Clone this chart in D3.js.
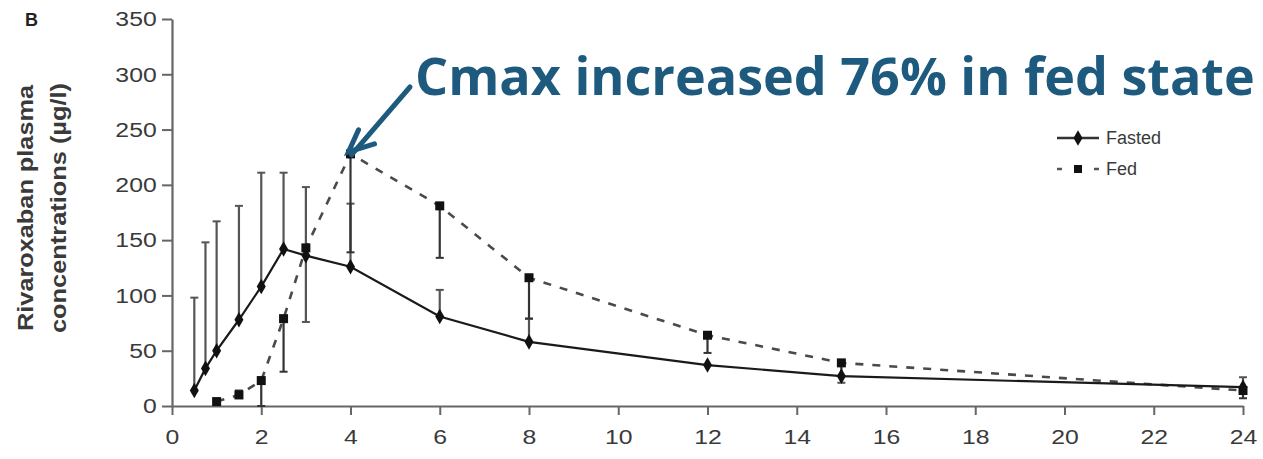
<!DOCTYPE html>
<html>
<head>
<meta charset="utf-8">
<script src="https://cdn.jsdelivr.net/npm/d3@7"></script>
<style>
  body { margin: 0; background: #fff; }
  svg { display: block; }
</style>
</head>
<body>
<div id="plot"></div>
<script>
const margin = { top: 19, right: 20, bottom: 53, left: 172 };
const width = 1263 - margin.left - margin.right;
const height = 459 - margin.top - margin.bottom;

// time (h) and plasma concentrations (µg/l)
const fastedTime = [0.5, 0.75, 1, 1.5, 2, 2.5, 3, 4, 6, 8, 12, 15, 24];
const fastedMean = [14, 34, 50, 78, 108, 142, 136, 126, 81, 58, 37, 27, 17];
const fastedHi   = [98, 148, 167, 181, 211, 211, 198, 183, 105, 79, 37, 27, 26];
const fastedLo   = [14, 34, 50, 78, 108, 142, 76, 126, 81, 58, 37, 21, 17];

const fedTime = [1, 1.5, 2, 2.5, 3, 4, 6, 8, 12, 15, 24];
const fedMean = [4, 10, 23, 79, 143, 228, 181, 116, 64, 39, 14];
const fedHi   = [4, 14, 23, 79, 143, 228, 181, 116, 64, 39, 14];
const fedLo   = [4, 10, 0, 31, 143, 139, 134, 79, 48, 27, 7];

const xTicks = d3.range(0, 25, 2);
const yTicks = d3.range(0, 351, 50);

const series = [
  { name: "Fasted", time: fastedTime, mean: fastedMean, hi: fastedHi, lo: fastedLo },
  { name: "Fed", time: fedTime, mean: fedMean, hi: fedHi, lo: fedLo }
].map(s => ({
  name: s.name,
  points: s.time.map((t, i) => ({ t, v: s.mean[i], hi: s.hi[i], lo: s.lo[i] }))
}));

const x = d3.scaleLinear().domain([0, 24]).range([0, width]);
const y = d3.scaleLinear().domain([0, 350]).range([height, 0]);

const root = d3.select("#plot")
  .append("svg")
  .attr("width", 1263)
  .attr("height", 459);

const svg = root.append("g")
  .attr("transform", `translate(${margin.left},${margin.top})`);

const axisColor = "#666";
const textColor = "#3a3a3a";
const font = "Liberation Sans, Arial, sans-serif";

// axes
const xAxis = svg.append("g")
  .attr("transform", `translate(0,${height})`)
  .call(d3.axisBottom(x).tickValues(xTicks).tickSize(9).tickSizeOuter(0).tickPadding(14));

const yAxis = svg.append("g")
  .call(d3.axisLeft(y).tickValues(yTicks).tickSize(10).tickSizeOuter(0).tickPadding(5));

[xAxis, yAxis].forEach(a => {
  a.select(".domain").attr("stroke", axisColor).attr("stroke-width", 2.2);
  a.selectAll(".tick line").attr("stroke", axisColor).attr("stroke-width", 2);
  a.selectAll(".tick text")
    .attr("fill", textColor)
    .style("font-family", font)
    .style("font-size", "21px");
});
xAxis.selectAll(".tick text").attr("dy", "0.71em").attr("transform", "scale(1.18,1)");
yAxis.selectAll(".tick text").attr("x", -13).attr("transform", "scale(1.18,1)");

// y axis title
const yTitle = root.append("text")
  .attr("transform", "translate(42,208) rotate(-90)")
  .attr("text-anchor", "middle")
  .attr("fill", textColor)
  .style("font-family", font)
  .style("font-weight", "bold")
  .style("font-size", "22px");
yTitle.append("tspan").attr("x", 0).attr("dy", "-0.42em")
  .attr("textLength", 246).attr("lengthAdjust", "spacingAndGlyphs")
  .text("Rivaroxaban plasma");
yTitle.append("tspan").attr("x", 0).attr("dy", "1.5em")
  .attr("textLength", 250).attr("lengthAdjust", "spacingAndGlyphs")
  .text("concentrations (µg/l)");

// panel letter
root.append("text")
  .attr("x", 25).attr("y", 26)
  .attr("fill", "#222")
  .style("font-family", font)
  .style("font-weight", "bold")
  .style("font-size", "18px")
  .text("B");

// error bars
series.forEach(s => {
  const col = s.name === "Fasted" ? "#555" : "#333";
  const g = svg.append("g");
  s.points.filter(d => d.hi !== d.lo).forEach(d => {
    g.append("line")
      .attr("x1", x(d.t)).attr("x2", x(d.t))
      .attr("y1", y(d.hi)).attr("y2", y(d.lo))
      .attr("stroke", col).attr("stroke-width", 2.2);
    [d.hi, d.lo].forEach(v => {
      if (v === d.v) return;
      g.append("line")
        .attr("x1", x(d.t) - 4).attr("x2", x(d.t) + 4)
        .attr("y1", y(v)).attr("y2", y(v))
        .attr("stroke", col).attr("stroke-width", 2);
    });
  });
});

const line = d3.line()
  .x(d => x(d.t))
  .y(d => y(d.v));

// Fed
svg.append("path")
  .datum(series[1].points)
  .attr("fill", "none")
  .attr("stroke", "#4a4a4a")
  .attr("stroke-width", 2.6)
  .attr("stroke-dasharray", "8,9")
  .attr("d", line);

svg.append("g").selectAll("rect")
  .data(series[1].points)
  .join("rect")
  .attr("x", d => x(d.t) - 4.5)
  .attr("y", d => y(d.v) - 4.5)
  .attr("width", 9).attr("height", 9)
  .attr("fill", "#111");

// Fasted
svg.append("path")
  .datum(series[0].points)
  .attr("fill", "none")
  .attr("stroke", "#1a1a1a")
  .attr("stroke-width", 2.2)
  .attr("d", line);

const diamond = d3.symbol().type(d3.symbolDiamond).size(70);
svg.append("g").selectAll("path")
  .data(series[0].points)
  .join("path")
  .attr("transform", d => `translate(${x(d.t)},${y(d.v)})`)
  .attr("d", diamond)
  .attr("fill", "#111");

// legend
const legend = root.append("g").attr("transform", "translate(1057,138)");
legend.append("line").attr("x1", 0).attr("x2", 42).attr("y1", 0).attr("y2", 0)
  .attr("stroke", "#333").attr("stroke-width", 2.4);
legend.append("path").attr("transform", "translate(21,0)").attr("d", diamond).attr("fill", "#111");
legend.append("line").attr("x1", 0).attr("x2", 42).attr("y1", 31).attr("y2", 31)
  .attr("stroke", "#555").attr("stroke-width", 2.4).attr("stroke-dasharray", "5,32,5");
legend.append("rect").attr("x", 17).attr("y", 27).attr("width", 8).attr("height", 8).attr("fill", "#111");
legend.selectAll("text.lab")
  .data(["Fasted", "Fed"])
  .join("text")
  .attr("class", "lab")
  .attr("x", 49)
  .attr("y", (d, i) => i * 31 + 6)
  .attr("fill", textColor)
  .style("font-family", font)
  .style("font-size", "18px")
  .text(d => d);

// annotation
const blue = "#1d5a7e";
const peak = series[1].points.find(d => d.t === 4);
const tipX = margin.left + x(peak.t) - 2, tipY = margin.top + y(peak.v) - 2;
root.append("line")
  .attr("x1", 410).attr("y1", 87)
  .attr("x2", tipX + 3).attr("y2", tipY + 3)
  .attr("stroke", blue).attr("stroke-width", 5).attr("stroke-linecap", "round");
root.append("path")
  .attr("d", `M${tipX + 10},${tipY - 22} L${tipX},${tipY} L${tipX + 26},${tipY - 8}`)
  .attr("fill", "none")
  .attr("stroke", blue).attr("stroke-width", 5)
  .attr("stroke-linecap", "round").attr("stroke-linejoin", "miter");

const note = root.append("text")
  .attr("x", 415).attr("y", 95)
  .attr("fill", blue)
  .style("font-family", "Open Sans, Noto Sans, sans-serif")
  .style("font-weight", "bold")
  .style("font-size", "54px")
  .text("Cmax increased 76% in fed state");
// shrink the font until the note fits the 840px it spans in the figure
const natural = note.node().getComputedTextLength();
if (natural > 840) note.style("font-size", `${54 * 840 / natural}px`);
</script>
</body>
</html>
